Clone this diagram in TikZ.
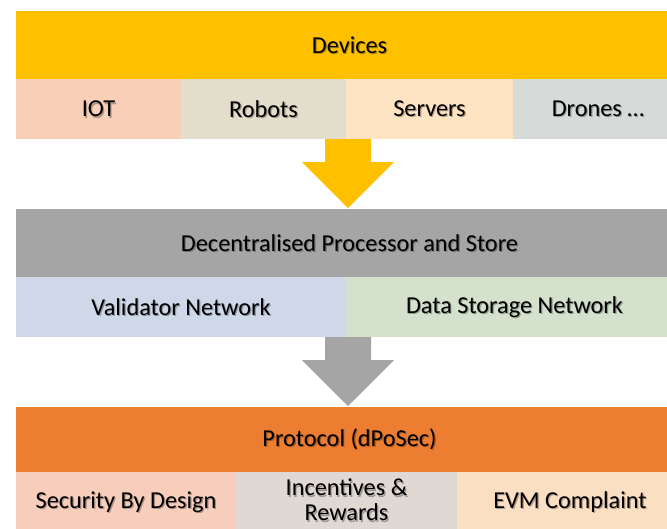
\documentclass[tikz,border=0pt]{standalone}
\usepackage{fontspec}
\setmainfont{Carlito}
\usetikzlibrary{calc}
\definecolor{devgold}{HTML}{FFC000}
\definecolor{iotc}{HTML}{F8D0B8}
\definecolor{robotc}{HTML}{E3DDCB}
\definecolor{serverc}{HTML}{FEE4C2}
\definecolor{dronec}{HTML}{D6DAD8}
\definecolor{procgrey}{HTML}{A5A5A5}
\definecolor{validc}{HTML}{CFD8E9}
\definecolor{storec}{HTML}{D4E1CC}
\definecolor{protoorange}{HTML}{ED7D31}
\definecolor{securc}{HTML}{F7CDBC}
\definecolor{incentc}{HTML}{DFD8D3}
\definecolor{evmc}{HTML}{FBDFC3}
\tikzset{
  cellbox/.style={rectangle, inner sep=0pt, outer sep=0pt, draw=none},
  lbltext/.style={inner sep=0pt, align=center, font=\fontsize{24.3}{25}\selectfont, text=black}
}
% filled cell: name, x1, y1, x2, y2, colour
\newcommand\cell[6]{%
  \node[cellbox, fill=#6, minimum width={(#4-#2)*1pt}, minimum height={(#5-#3)*1pt}]
    (#1) at ({(#2+#4)/2},{(#3+#5)/2}) {};}
% label with a soft drop shadow: name, anchor position, text
\newcommand\lbl[3]{%
  \node[lbltext, text opacity=0.3, xshift=1.2pt, yshift=-1.2pt] (#1-sh) at (#2) {#3};
  \node[lbltext] (#1) at (#2) {#3};}
% block arrow between two named points: from, to, colour
\newcommand\blockdown[3]{%
  \fill[#3] ($(#1)+(-23,0)$) -- ($(#1)+(23,0)$) -- ($(#1)+(23,23)$) -- ($(#1)+(46,23)$)
    -- (#2) -- ($(#1)+(-46,23)$) -- ($(#1)+(-23,23)$) -- cycle;}
\begin{document}
\begin{tikzpicture}[x=1pt, y=-1pt]
\useasboundingbox (0,0) rectangle (667,528);
\clip (0,0) rectangle (667,528);

% ---- Devices layer ----
\cell{devband}{16}{11}{683}{79}{devgold}
\cell{iot}{16}{79}{181}{139}{iotc}
\cell{robots}{181}{79}{346}{139}{robotc}
\cell{servers}{346}{79}{513}{139}{serverc}
\cell{drones}{513}{79}{683}{139}{dronec}
\lbl{devt}{devband}{Devices}
\lbl{iott}{iot}{IOT}
\lbl{robotst}{robots}{Robots}
\lbl{serverst}{servers}{Servers}
\lbl{dronest}{drones}{Drones …}

% ---- Processing layer ----
\cell{procband}{16}{209}{683}{277}{procgrey}
\cell{valid}{16}{277}{346}{337}{validc}
\cell{store}{346}{277}{683}{337}{storec}
\lbl{proct}{procband}{Decentralised Processor and Store}
\lbl{validt}{valid}{Validator Network}
\lbl{storet}{store}{Data Storage Network}

% ---- Protocol layer ----
\cell{protoband}{16}{407}{683}{472}{protoorange}
\cell{secur}{16}{472}{236}{532}{securc}
\cell{incent}{236}{472}{457}{532}{incentc}
\cell{evm}{457}{472}{683}{532}{evmc}
\coordinate (incentmid) at (346.5,500);
\lbl{protot}{protoband}{Protocol (dPoSec)}
\lbl{secust}{secur}{Security By Design}
\lbl{incentt}{incentmid}{Incentives \&\\Rewards}
\lbl{evmt}{evm}{EVM Complaint}

% ---- arrows between layers ----
\coordinate (a1s) at (348,139);
\coordinate (a1t) at (348,208);
\coordinate (a2s) at (348,337);
\coordinate (a2t) at (348,406);
\blockdown{a1s}{a1t}{devgold}
\blockdown{a2s}{a2t}{procgrey}
\end{tikzpicture}
\end{document}
